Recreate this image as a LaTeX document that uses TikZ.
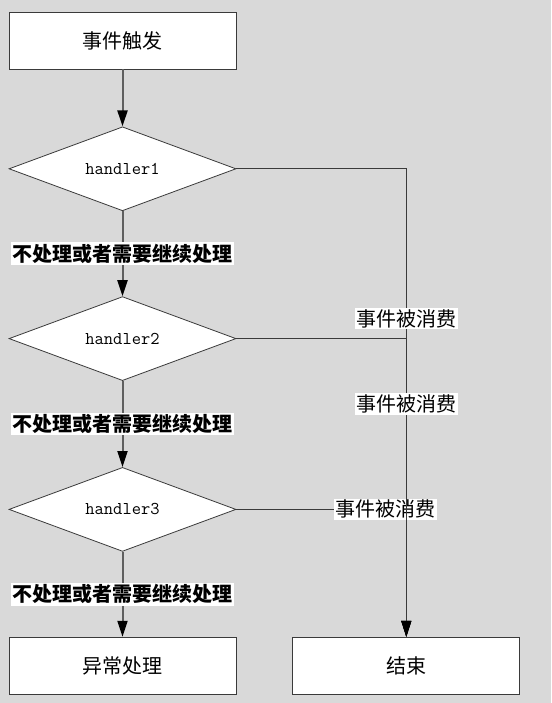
\documentclass[tikz,border=0pt]{standalone}
\usepackage{fontspec}
\newfontfamily\cjk{Noto Sans CJK SC}
\usepackage{xcolor}
\usetikzlibrary{arrows.meta, positioning, shapes.geometric}

\definecolor{bggray}{HTML}{D9D9D9}
\definecolor{linegray}{HTML}{5F5F5F}
\definecolor{edgegray}{HTML}{3A3A3A}

\begin{document}
\begin{tikzpicture}[x=1pt, y=1pt,
    box/.style={rectangle, draw=edgegray, line width=0.8pt, fill=white, minimum width=227pt, minimum height=57pt, font=\cjk\fontsize{20}{24}\selectfont},
    decide/.style={diamond, draw=edgegray, line width=0.8pt, fill=white, minimum width=227pt, minimum height=84pt, inner sep=0pt, aspect=2.7, font=\ttfamily\fontsize{18}{22}\selectfont},
    flow/.style={draw=linegray, line width=2pt, -{Triangle[length=16pt, width=10pt, black]}},
    eaten/.style={draw=edgegray, line width=1pt, -{Triangle[length=16pt, width=10pt, black]}},
    passlabel/.style={fill=white, inner sep=1.5pt, font=\cjk\bfseries\fontsize{20}{24}\selectfont},
    eatlabel/.style={fill=white, inner sep=1.5pt, font=\cjk\fontsize{20}{24}\selectfont}]

    % background
    \fill[bggray] (0,0) rectangle (551,-703);

    % main column
    \node[box] (trigger) at (122.5,-40.5) {事件触发};
    \node[decide, below=57pt of trigger] (h1) {handler1};
    \node[decide, below=85pt of h1] (h2) {handler2};
    \node[decide, below=86pt of h2] (h3) {handler3};
    \node[box, below=85pt of h3] (except) {异常处理};
    \node[box, right=56pt of except] (done) {结束};

    % passing down the chain
    \draw[flow] (trigger) -- (h1);
    \draw[flow] (h1) -- (h2) node[midway, passlabel] {不处理或者需要继续处理};
    \draw[flow] (h2) -- (h3) node[midway, passlabel] {不处理或者需要继续处理};
    \draw[flow] (h3) -- (except) node[midway, passlabel] {不处理或者需要继续处理};

    % consumed branches
    \draw[eaten] (h3.east) -| (done.north) node[pos=0.44, eatlabel] {事件被消费};
    \draw[eaten] (h1.east) -| (done.north) node[pos=0.66, eatlabel] {事件被消费};
    \draw[eaten] (h2.east) -| (done.north) node[pos=0.61, eatlabel] {事件被消费};
\end{tikzpicture}
\end{document}
